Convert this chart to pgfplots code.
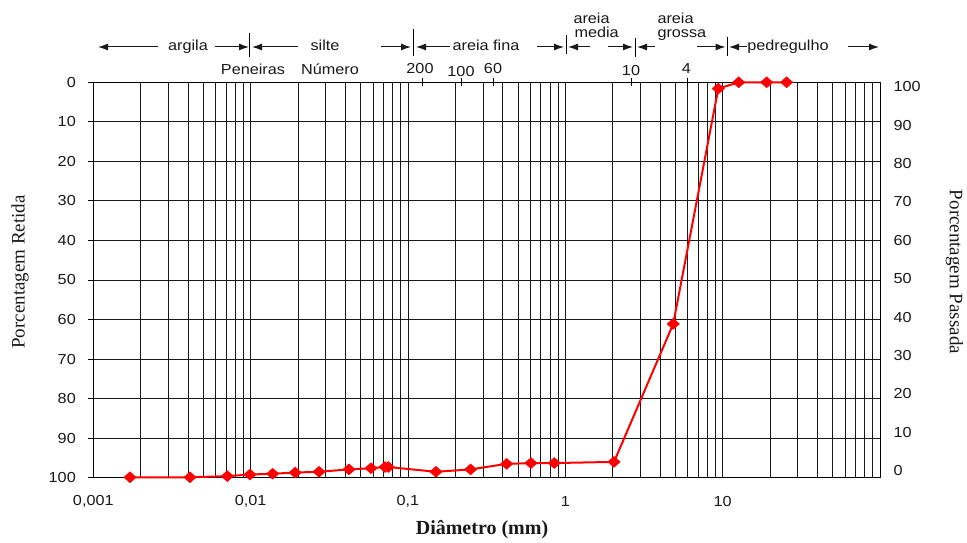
\documentclass[border=0pt]{standalone}
\usepackage{fontspec}
\setmainfont{Liberation Serif}
\newfontfamily\arialw{Liberation Sans}[FakeStretch=1.12]
\usepackage{pgfplots}
\usepackage{pgfplotstable}
\pgfplotsset{compat=1.18}
\usetikzlibrary{arrows.meta}

\newcommand\tk{\arialw\fontsize{14.5bp}{17bp}\selectfont}
\newcommand\lbl{\fontsize{19bp}{22bp}\selectfont}
\newcommand\lblb{\bfseries\fontsize{20bp}{23bp}\selectfont}

% diameter (mm) and percent passing
\pgfplotstableread{
d p
0.00171 0.1
0.00412 0.1
0.00711 0.4
0.00991 0.8
0.0138 1.0
0.0192 1.3
0.0272 1.5
0.0422 2.1
0.0582 2.4
0.0714 2.7
0.0750 2.7
0.1506 1.5
0.250 2.1
0.424 3.5
0.605 3.7
0.851 3.7
2.04 4.0
4.85 38.9
9.38 98.4
12.64 100
19.05 100
25.5 100
}\granulo

\tikzset{ar/.style={-{Latex[length=10bp,width=7bp]}, line width=1bp, black!90}}

\begin{document}
\begin{tikzpicture}
% page frame
\begin{scope}[shift={(-93.3bp,477.7bp)}, x=1bp, y=-1bp]
  \useasboundingbox (0,0) rectangle (967,539);
\end{scope}

\begin{axis}[
  at={(0,0)}, anchor=south west,
  scale only axis, width=786.7bp, height=395.4bp,
  xmode=log, xmin=0.001, xmax=100, ymin=0, ymax=100,
  axis line style={black, line width=1bp},
  xtick={0.001,0.01,0.1,1,10},
  xticklabels={{0,001},{0,01},{0,1},1,10},
  minor xtick={0.002,0.003,0.004,0.005,0.006,0.007,0.008,0.009,
               0.02,0.03,0.04,0.05,0.06,0.07,0.08,0.09,
               0.2,0.3,0.4,0.5,0.6,0.7,0.8,0.9,
               2,3,4,5,6,7,8,9,
               20,30,40,50,60,70,80,90},
  xmajorgrids, xminorgrids, ymajorgrids,
  grid style={black!90, line width=0.9bp},
  minor grid style={black!90, line width=0.9bp},
  ytick={0,10,...,100},
  yticklabels={100,90,80,70,60,50,40,30,20,10,0},
  ytick pos=left, xtick pos=bottom,
  tick align=outside,
  xtick style={draw=none},
  minor x tick style={draw=none},
  ytick style={black, line width=0.9bp},
  major tick length=5bp,
  tick label style={font=\tk, text=black!90},
  xticklabel style={anchor=center, yshift=-19bp},
  yticklabel style={anchor=east, xshift=-9bp},
  clip=false,
]
\addplot[red, line width=2bp, mark=diamond*, mark size=4.5bp,
  mark options={fill=red, xscale=1.5}] table[x=d, y=p]{\granulo};
\end{axis}

% secondary scale: percent passing
\begin{axis}[
  at={(0,0)}, anchor=south west,
  scale only axis, width=786.7bp, height=395.4bp,
  xmin=0, xmax=1, ymin=-1.82, ymax=101.15,
  hide x axis, axis y line*=right,
  y axis line style={draw=none},
  ytick={0,10,...,100}, major tick length=0pt,
  /pgf/number format/assume math mode=true,
  tick label style={font=\tk, text=black!90},
  yticklabel style={anchor=west, xshift=10bp},
]
\addplot[draw=none] coordinates {(0,0)};
\end{axis}

\begin{scope}[shift={(-93.3bp,477.7bp)}, x=1bp, y=-1bp]
  % axis titles
  \node[font=\lblb, text=black!90] at (482,530) {Diâmetro (mm)};
  \node[font=\lbl, text=black!90, rotate=90] at (20,272) {Porcentagem Retida};
  \node[font=\lbl, text=black!90, rotate=-90] at (954.5,272) {Porcentagem Passada};

  % soil fractions
  \begin{scope}[font=\tk, text=black!90]
    \draw[ar] (158,47) -- (98,47);
    \node[anchor=base] at (188,51) {argila};
    \draw[ar] (215,47) -- (249,47);
    \draw[line width=1bp] (249.7,33) -- (249.7,57);
    \draw[ar] (298,47) -- (252,47);
    \node[anchor=base] at (325,51) {silte};
    \draw[ar] (381,47) -- (411,47);
    \draw[line width=1bp] (413,29) -- (413,56);
    \draw[ar] (450,47) -- (416,47);
    \node[anchor=base] at (486,50.5) {areia fina};
    \draw[ar] (537,47) -- (564,47);
    \draw[line width=1bp] (566,35) -- (566,54);
    \draw[ar] (590,47) -- (568,47);
    \node[anchor=base west] at (570,23.5) {areia};
    \node[anchor=base west] at (571,37.5) {media};
    \draw[ar] (608,47) -- (633,47);
    \draw[line width=1bp] (635,38) -- (635,57);
    \draw[ar] (655,47) -- (637,47);
    \node[anchor=base west] at (654,23.5) {areia};
    \node[anchor=base west] at (654,38) {grossa};
    \draw[ar] (697,47) -- (725.5,47);
    \draw[line width=1bp] (727.3,37) -- (727.3,56);
    \draw[ar] (747,47) -- (729,47);
    \node[anchor=base] at (788,50.5) {pedregulho};
    \draw[ar] (848,47) -- (879,47);

    % sieve numbers
    \node[anchor=base] at (253,75) {Peneiras};
    \node[anchor=base] at (330,75) {Número};
    \node[anchor=base] at (420,74) {200};
    \node[anchor=base] at (461,76.5) {100};
    \node[anchor=base] at (493,74) {60};
    \node[anchor=base] at (631,76) {10};
    \node[anchor=base] at (686.5,74) {4};
    \foreach \s in {422,461.7,493.3,631.7,687.3}
      \draw[line width=1bp] (\s,78) -- (\s,86);
  \end{scope}
\end{scope}
\end{tikzpicture}
\end{document}
